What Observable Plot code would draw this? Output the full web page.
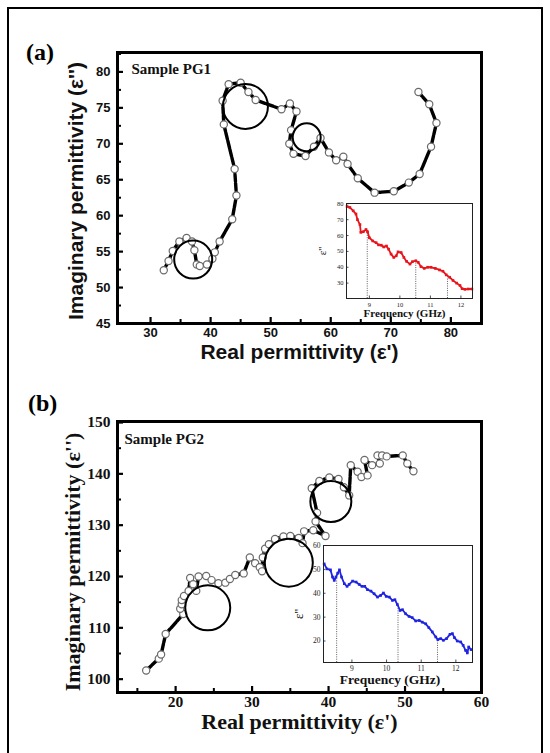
<!DOCTYPE html>
<html><head><meta charset="utf-8">
<script src="https://cdn.jsdelivr.net/npm/d3@7"></script>
<script src="https://cdn.jsdelivr.net/npm/@observablehq/plot@0.6"></script>
<style>
body{margin:0;background:#fff;}
#root{position:relative;width:550px;height:753px;overflow:hidden;background:#fff;}
#border{position:absolute;left:7px;top:7px;width:536px;height:780px;border:2px solid #000;box-sizing:border-box;}
.lbl{position:absolute;font-family:"Liberation Serif","Times New Roman",serif;font-weight:bold;font-size:24px;line-height:1;}
.holder{position:absolute;}
.holder svg{overflow:visible;display:block;}
</style></head>
<body><div id="root"><div id="border"></div>
<div class="lbl" style="left:26px;top:40px">(a)</div>
<div class="lbl" style="left:28px;top:391px">(b)</div>
</div>
<script>
// ---------- Panel (a): Sample PG1 ----------
const pg1Real = [32.2,33.0,33.7,34.8,36.0,36.9,37.3,37.7,38.2,39.4,40.3,40.7,41.5,43.6,44.3,44.0,42.2,42.0,43.0,45.0,46.3,47.5,51.8,53.2,54.3,53.4,53.1,53.8,55.8,57.2,58.3,59.7,60.9,62.1,62.8,64.5,67.3,70.5,73.0,74.8,76.7,77.6,76.4,74.6];
const pg1Imag = [52.4,53.7,55.1,56.4,56.9,56.4,55.2,53.2,53.0,53.2,54.0,54.9,56.4,59.5,62.8,66.5,72.7,76.0,78.3,78.5,77.2,76.1,74.8,75.6,74.5,71.9,70.0,68.6,68.3,69.6,70.8,68.8,67.7,68.2,67.2,65.2,63.2,63.4,64.6,65.8,69.6,72.9,75.5,77.2];
const pg1RingReal = [45.8,56.0,37.1];
const pg1RingImag = [75.2,70.9,53.9];
const pg1XTicks = [30,40,50,60,70,80];
const pg1XMinor = [35,45,55,65,75];
const pg1YTicks = [45,50,55,60,65,70,75,80];
const pg1YMinor = [47.5,52.5,57.5,62.5,67.5,72.5,77.5,82.5];

const pg1Freq = [8.27,8.36,8.47,8.56,8.61,8.69,8.72,8.80,8.89,8.94,9.00,9.11,9.22,9.30,9.39,9.47,9.56,9.63,9.71,9.80,9.88,9.94,10.04,10.13,10.22,10.33,10.41,10.52,10.60,10.69,10.80,10.91,11.02,11.16,11.30,11.41,11.52,11.63,11.74,11.86,11.97,12.04,12.13,12.24,12.36];
const pg1Eps  = [78.3,77.7,75.6,73.6,70.0,66.9,62.0,62.4,63.8,62.4,58.6,56.6,55.5,54.1,53.9,52.8,53.4,51.4,48.3,46.2,47.2,49.7,49.3,46.2,43.7,42.0,43.5,44.1,43.1,40.4,39.3,40.0,40.0,39.3,38.3,37.5,35.2,33.7,31.7,30.0,28.5,26.5,26.1,26.3,26.3];
const pg1DropFreq = [8.93,10.52,11.56];
const pg1DropEps  = [62.4,44.1,34.8];
const pg1InsetXTicks = [9,10,11,12];
const pg1InsetYTicks = [30,40,50,60,70,80];

// ---------- Panel (b): Sample PG2 ----------
const pg2Real = [16.15,17.8,18.1,18.7,21.0,20.6,20.8,20.8,21.1,21.7,21.9,22.3,22.7,23.0,24.0,24.7,25.6,26.5,27.1,27.8,28.9,29.7,30.4,31.0,31.3,31.4,31.7,32.2,33.0,34.1,35.0,36.1,36.6,36.8,38.0,39.6,38.3,38.5,37.8,38.8,40.1,41.3,42.0,42.7,42.9,43.8,44.3,45.1,44.7,45.7,46.7,46.4,47.0,47.6,49.7,50.3,51.1];
const pg2Imag = [101.7,104.0,104.8,108.8,112.7,113.7,114.6,115.4,116.2,117.2,119.7,118.5,117.2,120.0,120.1,119.3,118.7,118.8,119.5,120.3,120.6,123.7,122.6,121.8,121.0,123.7,125.4,126.3,127.3,127.8,127.9,127.5,126.5,128.8,129.0,127.9,130.7,132.4,137.2,138.6,139.3,139.0,137.4,135.8,141.7,140.4,139.4,139.7,142.7,141.7,142.0,143.6,143.6,143.4,143.6,142.0,140.5];
const pg2RingReal = [24.2,34.8,40.3];
const pg2RingImag = [113.9,122.7,134.6];
const pg2XTicks = [20,30,40,50,60];
const pg2XMinor = [15,25,35,45,55];
const pg2YTicks = [100,110,120,130,140,150];
const pg2YMinor = [105,115,125,135,145];

const pg2Freq = [8.20,8.28,8.38,8.44,8.49,8.54,8.59,8.64,8.70,8.78,8.86,8.92,9.02,9.12,9.21,9.29,9.37,9.45,9.55,9.64,9.74,9.83,9.91,9.99,10.08,10.17,10.24,10.31,10.39,10.46,10.55,10.65,10.74,10.84,10.94,11.03,11.13,11.22,11.32,11.42,11.48,11.56,11.64,11.73,11.83,11.90,11.96,12.04,12.14,12.21,12.28,12.33,12.37,12.44];
const pg2Eps  = [52.3,50.2,49.8,46.8,45.4,46.8,48.4,49.8,46.8,44.0,42.9,43.7,45.1,44.7,43.7,42.9,42.9,41.5,40.9,39.8,38.4,39.1,40.1,38.7,38.4,37.0,37.3,35.3,32.8,33.1,31.4,30.3,29.8,28.4,28.6,27.9,27.2,25.6,23.8,21.7,20.6,21.0,20.3,21.0,22.8,23.1,21.4,20.0,19.6,18.2,16.1,15.0,17.5,16.4];
const pg2DropFreq = [8.56,10.33,11.47];
const pg2DropEps  = [46.0,34.0,21.0];
const pg2InsetXTicks = [9,10,11,12];
const pg2InsetYTicks = [20,30,40,50,60];

const xTitle = "Real permittivity (ε')";
const yTitle = "Imaginary permittivity (ε'')";
const insetXTitle = "Frequency (GHz)";
const insetYTitle = "ε''";

const SANS = "Liberation Sans, Arial, sans-serif";
const SERIF = "Liberation Serif, Times New Roman, serif";

function place(el, left, top) {
  const d = document.createElement("div");
  d.className = "holder";
  d.style.left = left + "px";
  d.style.top = top + "px";
  d.appendChild(el);
  document.getElementById("root").appendChild(d);
}

function mainPanel(o) {
  const innerW = o.width - o.ml - o.mr, innerH = o.height - o.mt - o.mb;
  const pts = o.real.map((x, i) => ({x, y: o.imag[i]}));
  const rings = o.ringX.map((x, i) => ({x, y: o.ringY[i], r: o.ringR[i]}));
  const tickFont = {fontFamily: o.tickFamily, fontWeight: "bold", fontSize: o.tickSize, fill: "#111"};
  const titleFont = {fontFamily: o.titleFamily, fontWeight: "bold", fill: "#111"};
  return Plot.plot({
    width: o.width, height: o.height,
    marginLeft: o.ml, marginRight: o.mr, marginTop: o.mt, marginBottom: o.mb,
    x: {domain: o.xDomain, axis: null},
    y: {domain: o.yDomain, axis: null},
    r: {type: "identity"},
    style: {background: "transparent", overflow: "visible"},
    marks: [
      Plot.line(pts, {x: "x", y: "y", stroke: "#000", strokeWidth: 3.4, strokeDasharray: "7,1.6"}),
      Plot.dot(pts, {x: "x", y: "y", r: 3.6, fill: "#fff", stroke: "#6a6a6a", strokeWidth: 1.2}),
      Plot.dot(rings, {x: "x", y: "y", r: "r", fill: "none", stroke: "#000", strokeWidth: 2}),
      Plot.frame({stroke: "#000", strokeWidth: 3}),
      Plot.ruleX(o.xTicks, {x: d => d, insetTop: innerH - 6, stroke: "#000", strokeWidth: 2.2}),
      Plot.ruleX(o.xMinor, {x: d => d, insetTop: innerH - 4, stroke: "#000", strokeWidth: 2}),
      Plot.ruleY(o.yTicks, {y: d => d, insetRight: innerW - 6, stroke: "#000", strokeWidth: 2.2}),
      Plot.ruleY(o.yMinor, {y: d => d, insetRight: innerW - 4, stroke: "#000", strokeWidth: 2}),
      Plot.text(o.xTicks, {x: d => d, text: d => String(d), frameAnchor: "bottom", dy: o.xTickDy, ...tickFont}),
      Plot.text(o.yTicks, {y: d => d, text: d => String(d), frameAnchor: "left", textAnchor: "end", dx: -7, ...tickFont}),
      Plot.text([xTitle], {text: d => d, frameAnchor: "bottom", textAnchor: "middle", dy: o.xTitleDy, fontSize: o.xTitleSize, ...titleFont}),
      Plot.text([yTitle], {text: d => d, frameAnchor: "left", textAnchor: "middle", rotate: -90, dx: o.yTitleDx, dy: o.yTitleDy, fontSize: o.yTitleSize, ...titleFont}),
      Plot.text([o.sample], {text: d => d, frameAnchor: "top-left", textAnchor: "start", dx: o.sampleDx, dy: o.sampleDy,
        fontFamily: SERIF, fontWeight: "bold", fontSize: 15, fill: "#111"})
    ]
  });
}

function insetPanel(o) {
  const innerW = o.width - o.ml - o.mr, innerH = o.height - o.mt - o.mb;
  const pts = o.freq.map((f, i) => ({f, v: o.eps[i]}));
  const drops = o.dropF.map((f, i) => ({f, v: o.dropV[i]}));
  const tf = {fontFamily: SERIF, fontSize: o.tickSize, fill: "#222"};
  return Plot.plot({
    width: o.width, height: o.height,
    marginLeft: o.ml, marginRight: o.mr, marginTop: o.mt, marginBottom: o.mb,
    x: {domain: o.xDomain, axis: null},
    y: {domain: o.yDomain, axis: null},
    style: {background: "transparent", overflow: "visible"},
    marks: [
      Plot.ruleX(drops, {x: "f", y1: o.yDomain[0], y2: "v", stroke: "#333", strokeWidth: 0.8, strokeDasharray: "1,1.3"}),
      Plot.line(pts, {x: "f", y: "v", stroke: o.color, strokeWidth: 1.8}),
      Plot.dot(pts, {x: "f", y: "v", symbol: "square", r: 1.5, fill: o.color}),
      Plot.frame({stroke: "#222", strokeWidth: 1}),
      Plot.ruleX(o.xTicks, {x: d => d, insetTop: innerH - 2.5, stroke: "#222", strokeWidth: 0.8}),
      Plot.ruleY(o.yTicks, {y: d => d, insetRight: innerW - 2.5, stroke: "#222", strokeWidth: 0.8}),
      Plot.text(o.xTicks, {x: d => d, text: d => String(d), frameAnchor: "bottom", dy: o.xTickDy, ...tf}),
      Plot.text(o.yTicks, {y: d => d, text: d => String(d), frameAnchor: "left", textAnchor: "end", dx: -3, ...tf}),
      Plot.text([insetXTitle], {text: d => d, frameAnchor: "bottom", textAnchor: "middle", dx: o.xTitleDx, dy: o.xTitleDy,
        fontFamily: SERIF, fontWeight: "bold", fontSize: o.xTitleSize, fill: "#111"}),
      Plot.text([insetYTitle], {text: d => d, frameAnchor: "left", textAnchor: "middle", rotate: -90, dx: o.yTitleDx, dy: o.yTitleDy,
        fontFamily: SERIF, fontSize: o.yTitleSize, fill: "#111"})
    ]
  });
}

place(mainPanel({
  width: 550, height: 380, ml: 117, mr: 69, mt: 52, mb: 57,
  xDomain: [24.5, 85.1], yDomain: [45, 82.7],
  real: pg1Real, imag: pg1Imag, ringX: pg1RingReal, ringY: pg1RingImag, ringR: [22.5, 14, 19],
  xTicks: pg1XTicks, xMinor: pg1XMinor, yTicks: pg1YTicks, yMinor: pg1YMinor,
  tickFamily: SANS, tickSize: 13, xTickDy: 13,
  titleFamily: SANS, xTitleSize: 21, yTitleSize: 21, xTitleDy: 35, yTitleDx: -41, yTitleDy: 3,
  sample: "Sample PG1", sampleDx: 14, sampleDy: 11
}), 0, 0);

place(insetPanel({
  width: 158, height: 125, ml: 30, mr: 2, mt: 5, mb: 25,
  xDomain: [8.25, 12.38], yDomain: [20.3, 80.2],
  freq: pg1Freq, eps: pg1Eps, dropF: pg1DropFreq, dropV: pg1DropEps, color: "#e8141c",
  xTicks: pg1InsetXTicks, yTicks: pg1InsetYTicks, tickSize: 6.5, xTickDy: 8,
  xTitleSize: 11, xTitleDx: -5, xTitleDy: 18, yTitleSize: 11, yTitleDx: -24, yTitleDy: 0
}), 316, 198);

place(mainPanel({
  width: 550, height: 373, ml: 117, mr: 69, mt: 41, mb: 61,
  xDomain: [12.4, 60], yDomain: [97.4, 150.2],
  real: pg2Real, imag: pg2Imag, ringX: pg2RingReal, ringY: pg2RingImag, ringR: [22.5, 24, 20.5],
  xTicks: pg2XTicks, xMinor: pg2XMinor, yTicks: pg2YTicks, yMinor: pg2YMinor,
  tickFamily: SERIF, tickSize: 15.5, xTickDy: 14,
  titleFamily: SERIF, xTitleSize: 22, yTitleSize: 22, xTitleDy: 36, yTitleDx: -45, yTitleDy: 5,
  sample: "Sample PG2", sampleDx: 7, sampleDy: 12
}), 0, 380);

place(insetPanel({
  width: 184, height: 152, ml: 33, mr: 2, mt: 5, mb: 30,
  xDomain: [8.18, 12.48], yDomain: [11, 60],
  freq: pg2Freq, eps: pg2Eps, dropF: pg2DropFreq, dropV: pg2DropEps, color: "#1f24e0",
  xTicks: pg2InsetXTicks, yTicks: pg2InsetYTicks, tickSize: 7.5, xTickDy: 8,
  xTitleSize: 13.5, xTitleDx: -8, xTitleDy: 21, yTitleSize: 13, yTitleDx: -25, yTitleDy: 10
}), 290, 540);
</script>
</body></html>
